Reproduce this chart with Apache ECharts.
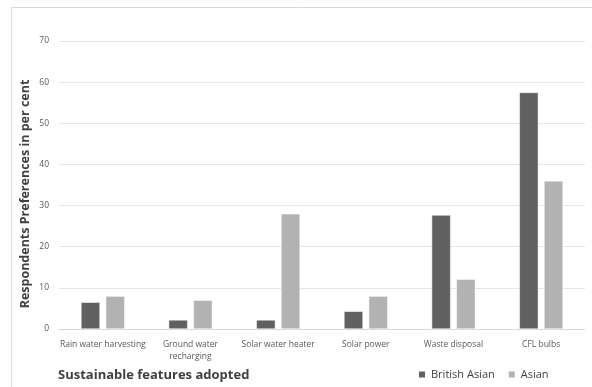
<!DOCTYPE html>
<html><head><meta charset="utf-8">
<script src="https://cdn.jsdelivr.net/npm/echarts@6/dist/echarts.min.js"></script>
<style>html,body{margin:0;padding:0;background:#fff}#c{width:592px;height:387px}</style>
</head><body><div id="c"></div>
<script>
var categories = ["Rain water harvesting", "Ground water\nrecharging", "Solar water heater", "Solar power", "Waste disposal", "CFL bulbs"];
var britishAsian = [6.5, 2.2, 2.2, 4.3, 27.7, 57.5];
var asian = [8.0, 7.0, 28.0, 8.0, 12.1, 36.0];
var yTicks = [0, 10, 20, 30, 40, 50, 60, 70];

var chart = echarts.init(document.getElementById('c'));
var font = "'Open Sans', 'Liberation Sans', sans-serif";
chart.setOption({
  animation: false,
  textStyle: {fontFamily: font},
  graphic: [
    {type: 'rect', shape: {x: 11.5, y: 7.5, width: 590, height: 390}, style: {fill: 'none', stroke: '#d9d9d9', lineWidth: 1}, silent: true},
    {type: 'text', x: 58, y: 375, style: {text: 'Sustainable features adopted', font: "bold 13px " + font, fill: '#404040', verticalAlign: 'middle', align: 'left'}, silent: true},
    {type: 'text', x: 25, y: 194, rotation: Math.PI / 2, style: {text: 'Respondents Preferences in per cent', font: "bold 12.5px " + font, fill: '#404040', verticalAlign: 'middle', align: 'center'}, silent: true}
  ],
  grid: {left: 59, right: 7, top: 41, bottom: 58, containLabel: false, outerBoundsMode: 'none'},
  legend: {
    data: ['British Asian', 'Asian'], left: 412, top: 364, itemWidth: 8, itemHeight: 8, itemGap: 12, icon: 'rect',
    textStyle: {fontSize: 11, color: '#404040', fontFamily: font}
  },
  xAxis: {
    type: 'category', data: categories,
    axisLine: {show: true, lineStyle: {color: '#d9d9d9'}},
    axisTick: {show: false},
    axisLabel: {fontSize: 8.5, color: '#595959', margin: 10, lineHeight: 12, interval: 0}
  },
  yAxis: {
    type: 'value', min: 0, max: 70, interval: 10,
    axisLine: {show: false}, axisTick: {show: false},
    axisLabel: {fontSize: 8.5, color: '#595959', margin: 10, formatter: function (v) { return yTicks.indexOf(v) >= 0 ? String(v) : ''; }},
    splitLine: {lineStyle: {color: '#e6e6e6'}}
  },
  series: [
    {name: 'British Asian', type: 'bar', data: britishAsian, barWidth: 19, barGap: '30%', itemStyle: {color: '#606060', borderColor: '#ffffff', borderWidth: 0.5}},
    {name: 'Asian', type: 'bar', data: asian, barWidth: 19, itemStyle: {color: '#b2b2b2', borderColor: '#ffffff', borderWidth: 0.5}}
  ]
});
</script></body></html>
